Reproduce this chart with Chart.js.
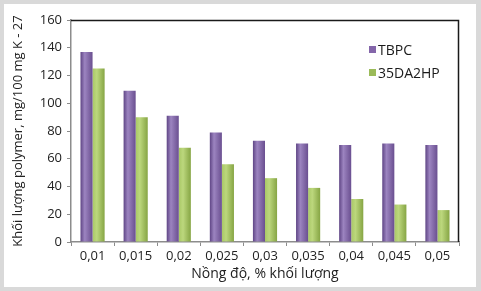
<!DOCTYPE html>
<html>
<head>
<meta charset="utf-8">
<script src="https://cdn.jsdelivr.net/npm/chart.js@4"></script>
<style>
  html, body { margin: 0; padding: 0; background: #d9d9d9; }
  #wrap { width: 481px; height: 291px; }
</style>
</head>
<body>
<div id="wrap"><canvas id="c" width="481" height="291"></canvas></div>
<script>
// data
const categories = ['0,01', '0,015', '0,02', '0,025', '0,03', '0,035', '0,04', '0,045', '0,05'];
const tbpc = [137, 109, 91, 79, 73, 71, 70, 71, 70];
const da2hp = [125, 90, 68, 56, 46, 39, 31, 27, 23];
const seriesNames = ['TBPC', '35DA2HP'];
const yTicks = [0, 20, 40, 60, 80, 100, 120, 140, 160];

const FONT = "'Open Sans', 'Noto Sans', sans-serif";
const CAT_PCT = 0.56;

// cylinder-ish shading across each bar
function barShade(stops, dsIndex) {
  return (ctx) => {
    const chart = ctx.chart;
    const x = chart.scales && chart.scales.x;
    if (!x || ctx.dataIndex == null || !chart.chartArea) return stops[1];
    const catW = (x.right - x.left) / categories.length;
    const barW = catW * CAT_PCT / 2;
    const c = x.getPixelForValue(ctx.dataIndex);
    const left = c - barW + dsIndex * barW;
    const g = chart.ctx.createLinearGradient(left, 0, left + barW, 0);
    g.addColorStop(0, stops[0]);
    g.addColorStop(0.35, stops[1]);
    g.addColorStop(1, stops[2]);
    return g;
  };
}

const panel = {
  id: 'panel',
  beforeDraw(chart) {
    const g = chart.ctx;
    g.save();
    g.fillStyle = '#d9d9d9';
    g.fillRect(0, 0, chart.width, chart.height);
    g.fillStyle = '#ffffff';
    g.fillRect(4, 4, 472, 283);
    g.restore();
  },
  afterDraw(chart) {
    const g = chart.ctx, a = chart.chartArea;
    g.save();
    // top and right frame
    g.strokeStyle = '#1a1a1a';
    g.lineWidth = 1.5;
    g.beginPath();
    g.moveTo(a.left, a.top + 0.5);
    g.lineTo(a.right - 0.5, a.top + 0.5);
    g.lineTo(a.right - 0.5, a.bottom);
    g.stroke();
    // legend
    g.font = '14px ' + FONT;
    g.textBaseline = 'middle';
    const cols = ['#8466aa', '#9bbb59'];
    chart.data.datasets.forEach((ds, i) => {
      const y = 50 + i * 23;
      g.fillStyle = cols[i];
      g.fillRect(369, y - 4, 7, 7);
      g.fillStyle = '#1a1a1a';
      g.fillText(ds.label, 378, y + 1);
    });
    g.restore();
  }
};

new Chart(document.getElementById('c'), {
  type: 'bar',
  data: {
    labels: categories,
    datasets: [
      {
        label: seriesNames[0],
        data: tbpc,
        backgroundColor: barShade(['#5f4585', '#9c84c0', '#6a4f90'], 0),
        categoryPercentage: CAT_PCT,
        barPercentage: 1
      },
      {
        label: seriesNames[1],
        data: da2hp,
        backgroundColor: barShade(['#a9c866', '#bcd77d', '#86a544'], 1),
        categoryPercentage: CAT_PCT,
        barPercentage: 1
      }
    ]
  },
  options: {
    responsive: false,
    animation: false,
    layout: { padding: { left: 6, top: 20, right: 22, bottom: 5 } },
    plugins: {
      legend: { display: false },
      tooltip: { enabled: false }
    },
    scales: {
      x: {
        offset: true,
        grid: {
          offset: true,
          drawOnChartArea: false,
          drawTicks: true,
          tickLength: 4,
          color: '#8c8c8c'
        },
        border: { color: '#8c8c8c', width: 1.5 },
        ticks: { color: '#222', font: { family: FONT, size: 13 }, padding: 2, maxRotation: 0, autoSkip: false },
        title: {
          display: true,
          text: 'Nồng độ, % khối lượng',
          color: '#222',
          font: { family: FONT, size: 14 },
          padding: { top: 0, bottom: 4 }
        },
        afterFit(s) { s.height = 44; }
      },
      y: {
        min: 0,
        max: 160,
        afterBuildTicks(s) { s.ticks = yTicks.map(v => ({ value: v })); },
        grid: {
          drawOnChartArea: false,
          drawTicks: true,
          tickLength: 4,
          color: '#8c8c8c'
        },
        border: { color: '#8c8c8c', width: 1.5 },
        ticks: { color: '#222', font: { family: FONT, size: 13 }, padding: 5 },
        title: {
          display: true,
          text: 'Khối lượng polymer, mg/100 mg K - 27',
          color: '#222',
          font: { family: FONT, size: 13 },
          padding: { top: 4, bottom: 0 }
        },
        afterFit(s) { s.width = 65; }
      }
    }
  },
  plugins: [panel]
});
</script>
</body>
</html>
